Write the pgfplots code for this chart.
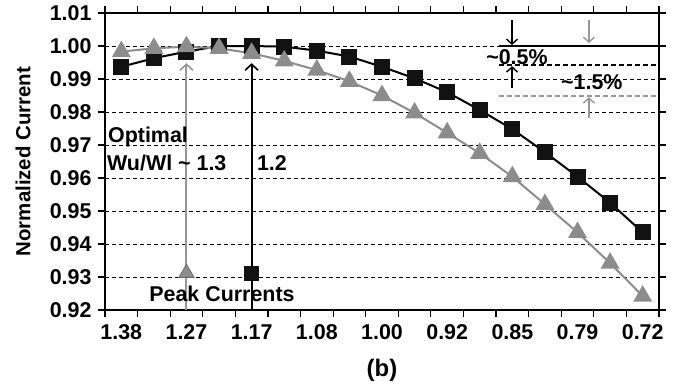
\documentclass[border=0pt]{standalone}
\usepackage{fontspec}
\setmainfont{Liberation Sans}
\usepackage{pgfplots}
\pgfplotsset{compat=1.18}
\usetikzlibrary{arrows.meta}
\definecolor{mygray}{RGB}{140,140,140}
\definecolor{argray}{RGB}{150,150,150}
\newcommand\FS{\fontsize{21.5}{24}\selectfont\bfseries}
\begin{document}
\begin{tikzpicture}
\useasboundingbox (-105bp,-77bp) rectangle (576bp,310bp);
\begin{axis}[at={(0,0)}, anchor=south west, scale only axis,
 width=554bp, height=297bp,
 xmin=-0.5, xmax=16.5, ymin=0.92, ymax=1.01,
 xtick={-0.5,0.5,...,16.5},
 xticklabels={1.38,,1.27,,1.17,,1.08,,1.00,,0.92,,0.85,,0.79,,0.72,},
 xticklabel style={xshift=16.3bp, yshift=-4bp},
 ytick={0.92,0.93,0.94,0.95,0.96,0.97,0.98,0.99,1.00,1.01},
 ymajorgrids, grid style={black, line width=0.7bp, dash pattern=on 4bp off 3bp},
 tick align=outside, major tick length=7bp, tick style={black, line width=1.2bp},
 axis line style={line width=1.5bp},
 yticklabel style={/pgf/number format/.cd, fixed, fixed zerofill, precision=2, /tikz/xshift=-3bp},
 /pgf/number format/assume math mode=true,
 tick label style={font=\FS},
 clip=false,
]
% annotation arrows (peak positions)
\draw[argray, line width=2bp, -{Straight Barb[length=6bp,width=13bp,line width=1.6bp]}] (axis cs:2,0.92) -- (axis cs:2,0.9948);
\draw[black, line width=2bp, -{Straight Barb[length=6bp,width=13bp,line width=1.6bp]}] (axis cs:4,0.92) -- (axis cs:4,0.9948);
% top-right annotations
\draw[black, line width=2bp] (axis cs:11.59,1.000) -- (axis cs:16.5,1.000);
\draw[black, line width=2bp, dash pattern=on 5bp off 3bp] (axis cs:11.59,0.99424) -- (axis cs:16.5,0.99424);
\draw[argray, line width=2bp, dash pattern=on 5bp off 3bp] (axis cs:11.59,0.98485) -- (axis cs:16.5,0.98485);
\draw[black, line width=1.6bp, -{Straight Barb[length=5bp,width=11bp,line width=1.4bp]}] (axis cs:11.99,1.0079) -- (axis cs:11.99,1.0003);
\draw[black, line width=1.6bp, -{Straight Barb[length=5bp,width=11bp,line width=1.4bp]}] (axis cs:11.99,0.9873) -- (axis cs:11.99,0.9939);
\draw[argray, line width=1.6bp, -{Straight Barb[length=5bp,width=11bp,line width=1.4bp]}] (axis cs:14.35,1.0079) -- (axis cs:14.35,1.0009);
\draw[argray, line width=1.6bp, -{Straight Barb[length=5bp,width=11bp,line width=1.4bp]}] (axis cs:14.35,0.9782) -- (axis cs:14.35,0.9845);
\node[font=\FS, inner sep=0pt] at (axis cs:12.14,0.99667) {\textasciitilde0.5\%};
\node[font=\FS, inner sep=0pt] at (axis cs:14.44,0.98909) {\textasciitilde1.5\%};
% data series
\addplot[black, line width=2bp, mark=square*, mark size=7bp, mark options={fill=black!93, draw=black!93}] coordinates {
(0,0.9937) (1,0.9963) (2,0.9983) (3,1.0000) (4,1.0000) (5,0.9998) (6,0.9986) (7,0.9968) (8,0.9937)
(9,0.9902) (10,0.9860) (11,0.9806) (12,0.9748) (13,0.9678) (14,0.9604) (15,0.9525) (16,0.9435)};
\addplot[mygray, line width=2bp, mark=triangle*, mark size=9bp, mark options={fill=mygray, draw=mygray}] coordinates {
(0,0.9983) (1,0.9993) (2,0.9998) (3,0.9993) (4,0.9978) (5,0.9955) (6,0.9927) (7,0.9893) (8,0.9850)
(9,0.9797) (10,0.9737) (11,0.9675) (12,0.9604) (13,0.9520) (14,0.9435) (15,0.9342) (16,0.9242)};
% peak markers
\addplot[only marks, mark=triangle*, mark size=9bp, mark options={fill=mygray, draw=black!60, line width=0.6bp}] coordinates {(2,0.9312)};
\addplot[only marks, mark=square*, mark size=7bp, mark options={fill=black!93, draw=black!93}] coordinates {(4,0.9313)};
% texts
\node[font=\FS, anchor=west, inner sep=0pt] at (axis cs:-0.41,0.97242) {Optimal};
\node[font=\FS, anchor=west, inner sep=0pt] at (axis cs:-0.44,0.96455) {Wu/Wl \textasciitilde\ 1.3};
\node[font=\FS, anchor=west, inner sep=0pt] at (axis cs:4.16,0.96455) {1.2};
\node[font=\FS, inner sep=0pt] at (axis cs:3.09,0.92485) {Peak Currents};
\end{axis}
\node[font=\fontsize{20.5}{22}\selectfont\bfseries, rotate=90] at (-82bp,148.5bp) {Normalized Current};
\node[font=\fontsize{24}{26}\selectfont\bfseries] at (277bp,-60bp) {(b)};
\end{tikzpicture}
\end{document}
